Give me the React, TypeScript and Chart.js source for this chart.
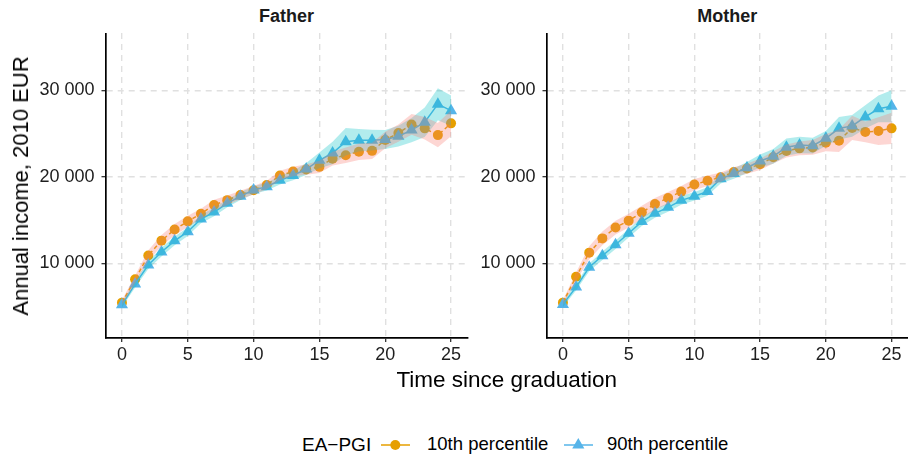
import React, { useEffect, useRef } from 'react';
import { Chart, registerables } from 'chart.js';

Chart.register(...registerables);

// ---- data ----
const years = [0, 1, 2, 3, 4, 5, 6, 7, 8, 9, 10, 11, 12, 13, 14, 15, 16, 17, 18, 19, 20, 21, 22, 23, 24, 25];
const xTicks = [0, 5, 10, 15, 20, 25];
const yTicks = [10000, 20000, 30000];
const panelTitles = ['Father', 'Mother'];
const seriesLabels = ['10th percentile', '90th percentile'];
const legendTitle = 'EA\u2212PGI';
const xTitle = 'Time since graduation';
const yTitle = 'Annual income, 2010 EUR';

const fatherP10 = [5450, 8150, 10900, 12620, 13900, 14850, 15720, 16740, 17300, 17900, 18450, 19050, 20150, 20600, 20850, 21150, 22100, 22500, 22900, 23000, 24250, 25050, 26050, 25600, 24820, 26180];
const fatherP10Hw = [300, 450, 600, 650, 650, 650, 600, 600, 550, 500, 500, 500, 550, 550, 600, 700, 800, 900, 950, 950, 950, 1000, 1200, 1300, 1400, 1500];
const fatherP90 = [5200, 7600, 9800, 11300, 12600, 13650, 15120, 15930, 16930, 17760, 18470, 18860, 19600, 20150, 20900, 21900, 22750, 24050, 24230, 24230, 24300, 24690, 25400, 26300, 28400, 27650];
const fatherP90Hw = [300, 400, 450, 500, 500, 500, 500, 500, 450, 450, 450, 450, 500, 550, 700, 900, 1300, 1600, 1300, 1200, 1100, 1200, 1400, 1700, 1850, 1750];

const motherP10 = [5450, 8450, 11230, 12880, 14130, 14930, 15890, 16860, 17550, 18290, 19100, 19540, 19950, 20550, 20950, 21450, 22250, 22980, 23290, 23400, 23950, 24160, 25650, 25190, 25290, 25600];
const motherP10Hw = [300, 500, 750, 800, 800, 800, 750, 700, 700, 650, 650, 600, 550, 550, 600, 650, 700, 750, 800, 850, 1000, 1300, 1400, 1200, 1600, 1800];
const motherP90 = [5250, 7250, 9540, 10870, 12150, 13470, 14820, 15780, 16470, 17280, 17750, 18300, 19780, 20370, 21050, 21830, 22370, 23420, 23680, 23600, 24450, 25600, 25880, 26920, 27860, 28150];
const motherP90Hw = [300, 400, 450, 500, 500, 500, 500, 500, 500, 500, 500, 500, 550, 600, 650, 750, 850, 1000, 950, 900, 850, 1300, 1250, 1350, 1550, 1850];

// ---- style ----
const ORANGE = '#E69F00';
const BLUE = '#56B4E9';
const PINK_FILL = 'rgba(248,118,109,0.3)';
const CYAN_FILL = 'rgba(0,191,196,0.3)';
const FONT = "'Liberation Sans', Arial, Helvetica, sans-serif";
const X_MIN = -1.25;
const X_MAX = 26.25;
const Y_MIN = 1364;
const Y_MAX = 36624;

function fmt(v: number): string {
  return String(Math.round(v)).replace(/\B(?=(\d{3})+(?!\d))/g, ' ');
}

type PanelProps = {
  p10: number[];
  p10hw: number[];
  p90: number[];
  p90hw: number[];
  left: number;
  width: number;
  padRight: number;
};

const gridOpts = {
  color: '#e0e0e0',
  lineWidth: 1.4,
  drawTicks: true,
  tickLength: 4,
  tickColor: '#222',
  tickWidth: 1.2,
  tickBorderDash: [],
};
const borderOpts = { display: true, color: '#000', width: 1.7, dash: [6, 5] };

function Panel({ p10, p10hw, p90, p90hw, left, width, padRight }: PanelProps) {
  const ref = useRef<HTMLCanvasElement>(null);
  useEffect(() => {
    if (!ref.current) return;
    const pts = (arr: number[]) => arr.map((v, i) => ({ x: years[i], y: v }));
    const lo = (arr: number[], hw: number[]) => arr.map((v, i) => ({ x: years[i], y: v - hw[i] }));
    const hi = (arr: number[], hw: number[]) => arr.map((v, i) => ({ x: years[i], y: v + hw[i] }));
    const band = (data: any, fill: any, bg: string) => ({
      data,
      showLine: false,
      borderWidth: 0,
      borderColor: 'transparent',
      pointRadius: 0,
      pointHoverRadius: 0,
      fill,
      backgroundColor: bg,
      order: 0,
    });
    const chart = new Chart(ref.current, {
      type: 'line',
      data: {
        datasets: [
          band(lo(p10, p10hw), false, PINK_FILL),
          band(hi(p10, p10hw), '-1', PINK_FILL),
          band(lo(p90, p90hw), false, CYAN_FILL),
          band(hi(p90, p90hw), '-1', CYAN_FILL),
          {
            label: seriesLabels[1],
            data: pts(p90),
            borderColor: BLUE,
            borderWidth: 1.5,
            pointStyle: 'triangle',
            pointRadius: 7,
            pointBackgroundColor: BLUE,
            pointBorderWidth: 0,
            fill: false,
            order: 1,
          },
          {
            label: seriesLabels[0],
            data: pts(p10),
            borderColor: ORANGE,
            borderWidth: 1.5,
            borderDash: [4, 3],
            pointStyle: 'circle',
            pointRadius: 5,
            pointBackgroundColor: ORANGE,
            pointBorderWidth: 0,
            fill: false,
            order: 2,
          },
        ] as any,
      },
      options: {
        animation: false,
        responsive: false,
        maintainAspectRatio: false,
        events: [],
        layout: { autoPadding: false, padding: { left: 0, right: padRight, top: 0, bottom: 0 } },
        plugins: {
          legend: { display: false },
          tooltip: { enabled: false },
          title: { display: false },
        },
        scales: {
          x: {
            type: 'linear',
            min: X_MIN,
            max: X_MAX,
            afterBuildTicks: (s: any) => {
              s.ticks = xTicks.map((v) => ({ value: v }));
            },
            afterFit: (s: any) => {
              s.height = 30;
              s.paddingLeft = 0;
              s.paddingRight = 0;
              s.paddingTop = 0;
              s.paddingBottom = 0;
            },
            grid: gridOpts,
            border: borderOpts,
            ticks: {
              font: { family: FONT, size: 18 },
              color: '#1e1e1e',
              padding: 2,
              maxRotation: 0,
              autoSkip: false,
              callback: (v: any) => String(v),
            },
          },
          y: {
            type: 'linear',
            min: Y_MIN,
            max: Y_MAX,
            afterBuildTicks: (s: any) => {
              s.ticks = yTicks.map((v) => ({ value: v }));
            },
            afterFit: (s: any) => {
              s.width = 105.5;
              s.paddingLeft = 0;
              s.paddingRight = 0;
              s.paddingTop = 0;
              s.paddingBottom = 0;
            },
            grid: gridOpts,
            border: borderOpts,
            ticks: {
              font: { family: FONT, size: 18 },
              color: '#1e1e1e',
              padding: 7,
              autoSkip: false,
              callback: (v: any) => fmt(Number(v)),
            },
          },
        },
      } as any,
    });
    return () => chart.destroy();
  }, []);
  return (
    <canvas
      ref={ref}
      width={width}
      height={335}
      style={{ position: 'absolute', left, top: 33, width, height: 335 }}
    />
  );
}

function LegendKey({ shape, color }: { shape: 'circle' | 'triangle'; color: string }) {
  const c = 14.3;
  const r = 7;
  return (
    <svg width={29} height={18} style={{ position: 'absolute', left: 0, top: 0 }}>
      <line x1={0} y1={9} x2={29} y2={9} stroke={color} strokeWidth={1.5} />
      {shape === 'circle' ? (
        <circle cx={c} cy={9} r={5} fill={color} />
      ) : (
        <polygon
          points={`${c},${9 - r} ${c + r * 0.866},${9 + r / 2} ${c - r * 0.866},${9 + r / 2}`}
          fill={color}
        />
      )}
    </svg>
  );
}

export default function App() {
  const text = (extra: React.CSSProperties): React.CSSProperties => ({
    position: 'absolute',
    fontFamily: FONT,
    color: '#000',
    whiteSpace: 'nowrap',
    ...extra,
  });
  return (
    <div
      style={{
        position: 'fixed',
        left: 0,
        top: 0,
        width: 908,
        height: 456,
        background: '#fff',
        overflow: 'hidden',
      }}
    >
      <Panel p10={fatherP10} p10hw={fatherP10Hw} p90={fatherP90} p90hw={fatherP90Hw} left={0} width={470} padRight={2.5} />
      <Panel p10={motherP10} p10hw={motherP10Hw} p90={motherP90} p90hw={motherP90Hw} left={441} width={467} padRight={0} />

      <div style={text({ left: 286.5, top: 7, fontSize: 18, lineHeight: '18px', fontWeight: 'bold', transform: 'translateX(-50%)', color: '#1a1a1a' })}>
        {panelTitles[0]}
      </div>
      <div style={text({ left: 727.2, top: 7, fontSize: 18, lineHeight: '18px', fontWeight: 'bold', transform: 'translateX(-50%)', color: '#1a1a1a' })}>
        {panelTitles[1]}
      </div>

      <div style={text({ left: 20.7, top: 186, fontSize: 22, lineHeight: '22px', transform: 'translate(-50%, -50%) rotate(-90deg)' })}>
        {yTitle}
      </div>
      <div style={text({ left: 506.7, top: 369, fontSize: 22.5, lineHeight: '22px', transform: 'translateX(-50%)' })}>
        {xTitle}
      </div>

      <div style={text({ left: 302, top: 435, fontSize: 19, lineHeight: '19px' })}>{legendTitle}</div>
      <div style={{ position: 'absolute', left: 381, top: 436 }}>
        <LegendKey shape="circle" color={ORANGE} />
      </div>
      <div style={text({ left: 427, top: 435.3, fontSize: 18.5, lineHeight: '18.5px' })}>{seriesLabels[0]}</div>
      <div style={{ position: 'absolute', left: 564, top: 436 }}>
        <LegendKey shape="triangle" color={BLUE} />
      </div>
      <div style={text({ left: 607, top: 435.3, fontSize: 18.5, lineHeight: '18.5px' })}>{seriesLabels[1]}</div>
    </div>
  );
}
